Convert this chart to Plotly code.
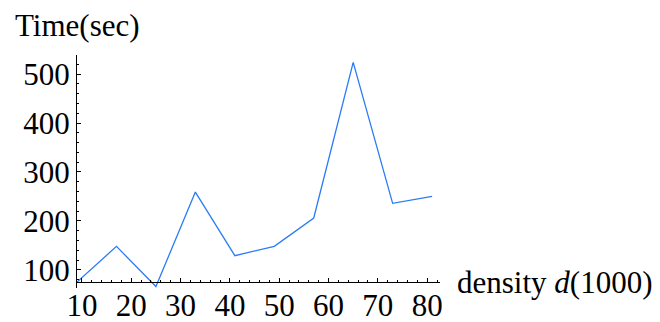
import plotly.graph_objects as go

density = [9, 17, 25, 33, 41, 49, 57, 65, 73, 81]
time_sec = [75, 148, 66, 259, 129, 148, 206, 524, 236, 250]
x_ticks = [10, 20, 30, 40, 50, 60, 70, 80]
y_ticks = [100, 200, 300, 400, 500]

FONT = "Liberation Serif"
FS = 31
Y_LO, Y_HI, Y_CROSS = 63, 539, 75
L, R, T, B = 69, 220, 47, 34
W, H = 652, 314  # page body has an 8px margin
PLOT_W, PLOT_H = W - L - R, H - T - B

fig = go.Figure()
fig.add_trace(go.Scatter(x=density, y=time_sec, mode="lines",
                         line=dict(color="#2a7bf6", width=1.3),
                         showlegend=False, hoverinfo="skip"))

fig.update_layout(
    width=W, height=H,
    margin=dict(l=L, r=R, t=T, b=B),
    plot_bgcolor="white", paper_bgcolor="white",
    font=dict(family=FONT, size=FS, color="black"),
    xaxis=dict(range=[9, 82.6], tickvals=x_ticks, showgrid=False, zeroline=False,
               anchor="free", position=(Y_CROSS - Y_LO) / (Y_HI - Y_LO),
               showline=True, linecolor="black", linewidth=1.2, automargin=False,
               ticks="inside", ticklen=4, tickcolor="black", tickwidth=1,
               ticklabelstandoff=-4,
               minor=dict(dtick=2, ticks="inside", ticklen=2, tickcolor="black"),
               tickfont=dict(family=FONT, size=FS)),
    yaxis=dict(range=[Y_LO, Y_HI], tickvals=y_ticks, showgrid=False, zeroline=False,
               showline=True, linecolor="black", linewidth=1.2, automargin=False,
               ticks="inside", ticklen=4, tickcolor="black", tickwidth=1,
               minor=dict(dtick=20, ticks="inside", ticklen=2, tickcolor="black"),
               tickfont=dict(family=FONT, size=FS)),
    annotations=[
        dict(text="Time(sec)", xref="paper", yref="paper", x=(5 - L) / PLOT_W,
             y=1 + 30 / PLOT_H, xanchor="left", yanchor="middle", showarrow=False,
             font=dict(family=FONT, size=FS)),
        dict(text="density <i>d</i>(1000)", xref="paper", yref="paper", x=1 + 15 / PLOT_W,
             y=6 / PLOT_H, xanchor="left", yanchor="middle", showarrow=False,
             font=dict(family=FONT, size=FS)),
    ],
)

fig.write_html("out.html")
